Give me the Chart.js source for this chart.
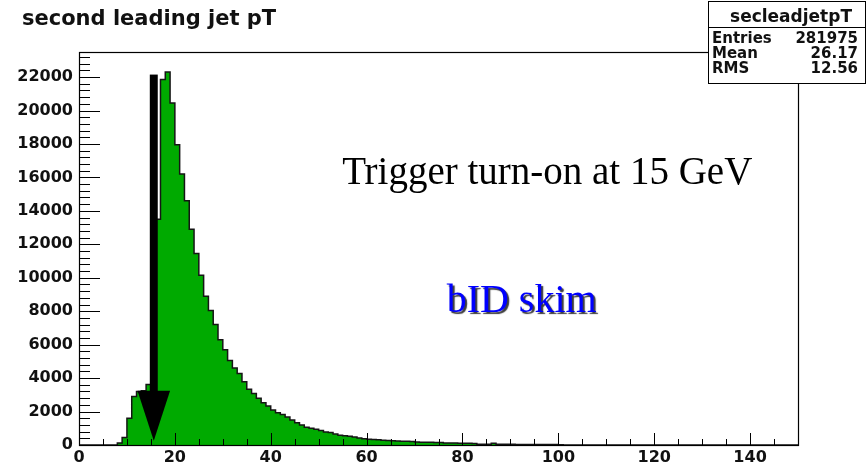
<!DOCTYPE html>
<html>
<head>
<meta charset="utf-8">
<script src="https://cdn.jsdelivr.net/npm/chart.js@4.4.1/dist/chart.umd.min.js"></script>
<style>
html,body{margin:0;padding:0;background:#fff;}
#wrap{width:867px;height:470px;position:relative;}
</style>
</head>
<body>
<div id="wrap"><canvas id="c"></canvas></div>
<script>
// ---- histogram definition (1 GeV bins from 0 to 150) ----
const histTitle = 'second leading jet pT';
const xMin = 0;
const xMax = 150;
const binWidth = 1;
const yMax = 23500;

// bin contents, one per 1 GeV bin
const counts = [
  0, 0, 0, 0, 0, 0, 0, 0,
  120, 450, 1600, 2900, 3200, 3250, 3620, 7500, 13500, 21850,
  22300, 20450, 17950, 16200, 14600, 12900,
  11450, 10150, 8900, 8050, 7200, 6300, 5700, 5050, 4600, 4280,
  3780, 3330, 3080, 2790, 2520, 2330, 2100, 1930, 1830, 1680, 1490, 1330,
  1200, 1060, 1000, 940, 860, 780, 740, 660, 590, 560, 530, 480, 420, 370,
  340, 330, 320, 290, 270, 250, 240, 230, 220, 210, 175, 170, 165, 160, 155, 150,
  125, 120, 115, 110, 105, 100, 95, 50, 45, 45, 100,
  45, 42, 40, 38, 36, 35, 33, 32, 30, 28, 26, 25, 24, 22,
  0, 0, 0, 0, 0, 0, 0, 0, 0, 0,
  0, 0, 0, 0, 0, 0, 0, 0, 0, 0,
  0, 0, 0, 0, 0, 0, 0, 0, 0, 0,
  0, 0, 0, 0, 0, 0, 0, 0, 0, 0,
  0, 0, 0, 0, 0, 0, 0, 0, 0
];

// axis tick labels
const xTickValues = [0, 20, 40, 60, 80, 100, 120, 140];
const yTickValues = [0, 2000, 4000, 6000, 8000, 10000, 12000, 14000, 16000, 18000, 20000, 22000];
const xMinorStep = 5;
const yMinorStep = 400;

// statistics box
const statsName = 'secleadjetpT';
const statsLabels = ['Entries', 'Mean', 'RMS'];
const statsValues = ['281975', '26.17', '12.56'];

// annotations (data coordinates)
const arrowSpec = { x: 15.6, yTop: 22150, yHeadBase: 3250, yTip: 250, shaftHalf: 0.83, headHalf: 3.4 };
const noteTrigger = { text: 'Trigger turn-on at 15 GeV', x: 54.9, y: 15620 };
const noteSkim = { text: 'bID skim', x: 76.7, y: 7960 };

// ---- build step-line points (left bin edges + closing point) ----
const histPoints = counts.map((c, i) => ({ x: xMin + i * binWidth, y: c }));
histPoints.push({ x: xMax, y: counts[counts.length - 1] });

const decor = {
  id: 'rootDecor',
  afterDatasetsDraw(chart) {
    const { ctx, chartArea: a, scales: { x, y } } = chart;
    ctx.save();
    // inward ticks
    ctx.strokeStyle = '#000';
    ctx.lineWidth = 1;
    ctx.beginPath();
    for (let v = xMin + xMinorStep; v < xMax; v += xMinorStep) {
      const px = Math.round(x.getPixelForValue(v)) + 0.5;
      const len = (v % 20 === 0) ? 12 : 6;
      ctx.moveTo(px, a.bottom);
      ctx.lineTo(px, a.bottom - len);
    }
    for (let v = yMinorStep; v < yMax; v += yMinorStep) {
      const py = Math.round(y.getPixelForValue(v)) + 0.5;
      const len = (v % 2000 === 0) ? 21 : 11;
      ctx.moveTo(a.left, py);
      ctx.lineTo(a.left + len, py);
    }
    ctx.stroke();
    // frame
    ctx.lineWidth = 1.2;
    ctx.strokeRect(Math.round(a.left) + 0.5, Math.round(a.top) + 0.5,
      Math.round(a.right - a.left), Math.round(a.bottom - a.top));

    // arrow
    const cx = x.getPixelForValue(arrowSpec.x);
    const sh = x.getPixelForValue(arrowSpec.x + arrowSpec.shaftHalf) - cx;
    const hh = x.getPixelForValue(arrowSpec.x + arrowSpec.headHalf) - cx;
    const yTop = y.getPixelForValue(arrowSpec.yTop);
    const yBase = y.getPixelForValue(arrowSpec.yHeadBase);
    const yTip = y.getPixelForValue(arrowSpec.yTip);
    ctx.fillStyle = '#000';
    ctx.fillRect(cx - sh, yTop, 2 * sh, yBase - yTop + 1);
    ctx.beginPath();
    ctx.moveTo(cx - hh, yBase);
    ctx.lineTo(cx + hh, yBase);
    ctx.lineTo(cx, yTip);
    ctx.closePath();
    ctx.fill();

    // annotation texts
    ctx.textAlign = 'left';
    ctx.textBaseline = 'alphabetic';
    ctx.font = '39px "Liberation Serif", "Times New Roman", serif';
    ctx.fillStyle = '#000';
    ctx.fillText(noteTrigger.text, x.getPixelForValue(noteTrigger.x), y.getPixelForValue(noteTrigger.y));

    ctx.font = '40px "Liberation Serif", "Times New Roman", serif';
    ctx.save();
    ctx.shadowColor = 'rgba(40,40,40,0.9)';
    ctx.shadowOffsetX = 2;
    ctx.shadowOffsetY = 2;
    ctx.shadowBlur = 1;
    ctx.fillStyle = '#0000ff';
    ctx.fillText(noteSkim.text, x.getPixelForValue(noteSkim.x), y.getPixelForValue(noteSkim.y));
    ctx.restore();

    // histogram title (top left)
    ctx.fillStyle = '#111';
    ctx.textAlign = 'left';
    ctx.font = 'bold 21px "DejaVu Sans", sans-serif';
    ctx.fillText(histTitle, 22, 25);

    // stats box
    const bx = 708, by = 1, bw = 158, bh = 82;
    ctx.fillStyle = '#fff';
    ctx.fillRect(bx, by, bw, bh);
    ctx.strokeStyle = '#000';
    ctx.lineWidth = 1;
    ctx.strokeRect(bx + 0.5, by + 0.5, bw - 1, bh);
    ctx.beginPath();
    ctx.moveTo(bx, 27.5);
    ctx.lineTo(bx + bw, 27.5);
    ctx.stroke();
    ctx.fillStyle = '#111';
    ctx.font = 'bold 17px "DejaVu Sans", sans-serif';
    ctx.textAlign = 'center';
    ctx.fillText(statsName, bx + bw / 2 + 4, 22);
    ctx.font = 'bold 15px "DejaVu Sans", sans-serif';
    for (let i = 0; i < statsLabels.length; i++) {
      const by2 = 43 + i * 15;
      ctx.textAlign = 'left';
      ctx.fillText(statsLabels[i], bx + 4, by2);
      ctx.textAlign = 'right';
      ctx.fillText(statsValues[i], bx + bw - 8, by2);
    }
    ctx.restore();
  }
};

const tickFont = { family: 'DejaVu Sans', size: 16, weight: 'bold' };

new Chart(document.getElementById('c'), {
  type: 'line',
  data: {
    datasets: [{
      data: histPoints,
      stepped: 'before',
      fill: 'origin',
      backgroundColor: '#00aa00',
      borderColor: '#151515',
      borderWidth: 1.5,
      pointRadius: 0,
      tension: 0
    }]
  },
  options: {
    responsive: true,
    maintainAspectRatio: false,
    animation: false,
    devicePixelRatio: 1,
    layout: { padding: { left: 0, right: 69, top: 52, bottom: 0 } },
    plugins: {
      legend: { display: false },
      tooltip: { enabled: false },
      title: { display: false }
    },
    scales: {
      x: {
        type: 'linear',
        min: xMin,
        max: xMax,
        grid: { display: false, drawTicks: false },
        border: { display: false },
        afterBuildTicks: s => { s.ticks = xTickValues.map(v => ({ value: v })); },
        afterFit: s => { s.height = 25; },
        ticks: { color: '#111', font: tickFont, padding: 3, maxRotation: 0, autoSkip: false, callback: v => String(v) }
      },
      y: {
        type: 'linear',
        min: 0,
        max: yMax,
        grid: { display: false, drawTicks: false },
        border: { display: false },
        afterBuildTicks: s => { s.ticks = yTickValues.map(v => ({ value: v })); },
        afterFit: s => { s.width = 79; },
        ticks: { color: '#111', font: tickFont, padding: 6, autoSkip: false, callback: v => String(v) }
      }
    }
  },
  plugins: [decor]
});
</script>
</body>
</html>
